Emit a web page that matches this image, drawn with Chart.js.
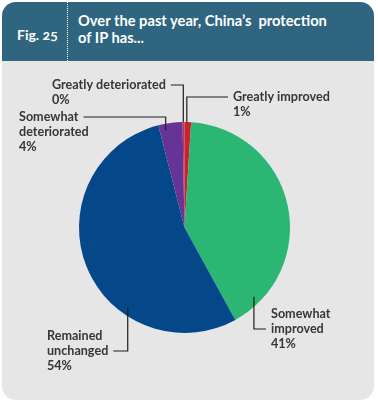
<!DOCTYPE html>
<html>
<head>
<meta charset="utf-8">
<script src="https://cdn.jsdelivr.net/npm/chart.js@4/dist/chart.umd.min.js"></script>
<style>
  html, body { margin:0; padding:0; background:#ffffff; }
  #wrap { position:relative; width:378px; height:405px; overflow:hidden; }
  #card { position:absolute; left:2px; top:2px; width:372px; height:398px; background:#e6e6e6; border-radius:14px; }
  #head { position:absolute; left:2px; top:2px; width:372px; height:59px; background:#30657f; border-radius:14px 14px 0 0; }
  #fig { position:absolute; left:15px; top:24px; color:#fff; font:bold 14px Lato, "Open Sans", sans-serif; font-feature-settings:"onum"; }
  #sep { position:absolute; left:65px; top:0; height:59px; border-left:1px dotted #ffffff; }
  #title { position:absolute; left:76px; top:10px; color:#fff; font:bold 14.7px/16.5px Lato, "Open Sans", sans-serif; font-feature-settings:"onum"; }
  #c { position:absolute; left:0; top:0; }
</style>
</head>
<body>
<div id="wrap">
  <div id="card"></div>
  <div id="head">
    <div id="fig">Fig. 25</div>
    <div id="sep"></div>
    <div id="title">Over the past year, China’s&nbsp; protection<br>of IP has...</div>
  </div>
  <canvas id="c" width="378" height="405"></canvas>
</div>
<script>
// ---- data ----
const categories = [
  ['Greatly improved'],
  ['Somewhat', 'improved'],
  ['Remained', 'unchanged'],
  ['Somewhat', 'deteriorated'],
  ['Greatly deteriorated']
];
const values = [1, 41, 54, 3.7, 0.3];
const colors = ['#d0202e', '#2bb673', '#04488a', '#653496', '#b0385e'];

// ---- label layout (text position, connector anchor inside slice) ----
const labelX      = [233, 271, 47, 19, 52];
const labelY      = [97, 314, 336, 117, 85];
const joinLine    = [0, 1, 1, 0, 0];          // which text line the connector meets
const joinSide    = ['left', 'left', 'right', 'right', 'right'];
const anchorFrac  = [0.35, 0.89, 0.33, 0.26, 0.4];
const anchorRad   = [1.0, 0.93, 0.93, 0.94, 1.0];

const total = values.reduce((a, b) => a + b, 0);

const labelPlugin = {
  id: 'elbowLabels',
  afterDraw(chart) {
    const ctx = chart.ctx;
    const meta = chart.getDatasetMeta(0);
    ctx.save();
    ctx.font = 'bold 12.6px Lato, "Open Sans", sans-serif';
    ctx.textBaseline = 'middle';
    ctx.textAlign = 'left';
    const lh = 15;
    meta.data.forEach((arc, i) => {
      const p = arc.getProps(['x', 'y', 'startAngle', 'endAngle', 'outerRadius'], true);
      const ang = p.startAngle + (p.endAngle - p.startAngle) * anchorFrac[i];
      const r = p.outerRadius * anchorRad[i];
      const ax = p.x + Math.cos(ang) * r;
      const ay = p.y + Math.sin(ang) * r;
      const lines = categories[i].concat([Math.round(values[i] / total * 100) + '%']);
      const ty = labelY[i];
      ctx.fillStyle = '#363636';
      lines.forEach((t, k) => ctx.fillText(t, labelX[i], ty + k * lh));
      const jy = ty + joinLine[i] * lh;
      const jw = ctx.measureText(lines[joinLine[i]]).width;
      const gap = 5;
      const jx = joinSide[i] === 'left' ? labelX[i] - gap : labelX[i] + jw + gap;
      ctx.strokeStyle = '#1e1e1e';
      ctx.lineWidth = 1.2;
      ctx.beginPath();
      ctx.moveTo(ax, ay);
      ctx.lineTo(ax, jy);
      ctx.lineTo(jx, jy);
      ctx.stroke();
    });
    ctx.restore();
  }
};

new Chart(document.getElementById('c'), {
  type: 'pie',
  data: {
    labels: categories,
    datasets: [{
      data: values,
      backgroundColor: colors,
      borderWidth: 0
    }]
  },
  options: {
    responsive: false,
    animation: false,
    layout: { padding: { left: 79, right: 88, top: 122, bottom: 72 } },
    plugins: { legend: { display: false }, tooltip: { enabled: false } }
  },
  plugins: [labelPlugin]
});
</script>
</body>
</html>
